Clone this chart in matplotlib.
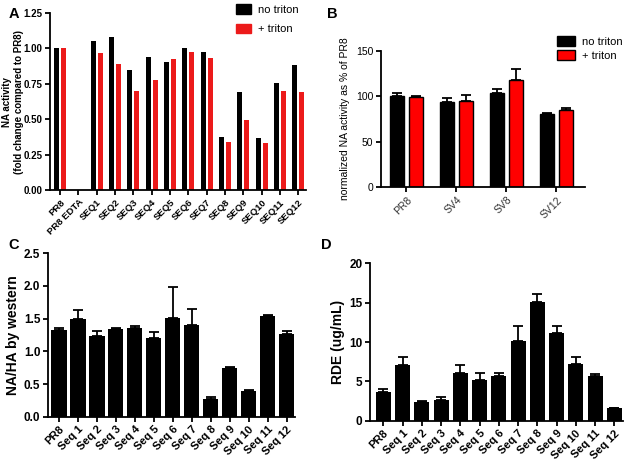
import numpy as np
from matplotlib import pyplot as plt
from matplotlib.patches import Patch

plt.rcParams['font.family'] = ['Liberation Sans', 'DejaVu Sans']

# panel A: NA activity, fold change compared to PR8
a_labels = ['PR8', 'PR8 EDTA', 'SEQ1', 'SEQ2', 'SEQ3', 'SEQ4', 'SEQ5', 'SEQ6',
            'SEQ7', 'SEQ8', 'SEQ9', 'SEQ10', 'SEQ11', 'SEQ12']
a_no_triton = [1.00, 0.0, 1.055, 1.083, 0.848, 0.942, 0.904, 1.00, 0.975,
               0.377, 0.695, 0.371, 0.757, 0.886]
a_triton = [1.00, -0.01, 0.966, 0.888, 0.70, 0.775, 0.923, 0.975, 0.935,
            0.343, 0.493, 0.329, 0.703, 0.69]

# panel B: normalized NA activity as % of PR8
b_labels = ['PR8', 'SV4', 'SV8', 'SV12']
b_no_triton = [100.5, 93.5, 103.4, 81.0]
b_no_triton_err = [2.9, 4.4, 4.8, 0.8]
b_triton = [99.7, 94.6, 118.4, 85.4]
b_triton_err = [0.5, 7.4, 12.1, 1.5]

# panels C and D share the sequence labels
seq_labels = ['PR8'] + [f'Seq {i}' for i in range(1, 13)]
c_values = [1.32, 1.50, 1.24, 1.34, 1.36, 1.21, 1.51, 1.41, 0.265, 0.745,
            0.393, 1.54, 1.265]
c_err = [0.04, 0.13, 0.07, 0.01, 0.03, 0.08, 0.47, 0.24, 0.04, 0.01, 0.01,
         0.01, 0.045]
d_values = [3.64, 7.12, 2.37, 2.67, 6.1, 5.13, 5.64, 10.17, 15.08, 11.1,
            7.16, 5.64, 1.65]
d_err = [0.43, 0.93, 0.13, 0.38, 0.93, 0.93, 0.42, 1.86, 0.98, 0.93, 0.89,
         0.36, 0.0]

RED = '#ec1a1a'


def style_axis(ax, bold=True, size=7):
    for side in ['top', 'right']:
        ax.spines[side].set_visible(False)
    for side in ['left', 'bottom']:
        ax.spines[side].set_linewidth(1.3)
    ax.tick_params(width=1.3, length=3.5, labelsize=size, pad=2)
    weight = 'bold' if bold else 'normal'
    for lbl in ax.get_xticklabels() + ax.get_yticklabels():
        lbl.set_fontweight(weight)


def up_errors(ax, x, y, err, color='black'):
    err = np.asarray(err)
    ax.errorbar(x, y, yerr=[np.zeros_like(err), err], fmt='none',
                ecolor=color, elinewidth=1.3, capsize=3.5, capthick=1.3)


fig = plt.figure(figsize=(6.29, 4.67), dpi=100)

# ---- A ----
axA = fig.add_axes([0.0795, 0.593, 0.407, 0.379])
xa = np.arange(len(a_labels))
axA.bar(xa - 0.19, a_no_triton, width=0.27, color='black')
axA.bar(xa + 0.19, a_triton, width=0.27, color=RED)
axA.set_xlim(-0.55, 13.42)
axA.set_ylim(0, 1.25)
axA.set_yticks([0, 0.25, 0.5, 0.75, 1.0, 1.25])
axA.set_yticklabels(['0.00', '0.25', '0.50', '0.75', '1.00', '1.25'])
axA.set_xticks(xa)
axA.set_xticklabels(a_labels, rotation=45, ha='right', rotation_mode='anchor')
axA.set_ylabel('NA activity\n(fold change compared to PR8)', fontsize=7,
               fontweight='bold')
axA.yaxis.set_label_coords(-0.103, 0.5)
style_axis(axA, size=7)
for lbl in axA.get_xticklabels():
    lbl.set_fontsize(6.8)
fig.legend(handles=[Patch(color='black', label='no triton'),
                    Patch(color=RED, label='+ triton')],
           loc='upper left', bbox_to_anchor=(0.36, 1.012), frameon=False,
           fontsize=8, handlelength=1.3, handleheight=0.9, labelspacing=0.8,
           handletextpad=0.6)
fig.text(0.013, 0.985, 'A', fontsize=10.5, fontweight='bold', va='top')

# ---- B ----
axB = fig.add_axes([0.6057, 0.599, 0.3243, 0.292])
xb = np.arange(len(b_labels))
axB.bar(xb - 0.19, b_no_triton, width=0.29, color='black',
        edgecolor='black', linewidth=1)
axB.bar(xb + 0.19, b_triton, width=0.29, color='#ff0000',
        edgecolor='black', linewidth=1)
up_errors(axB, xb - 0.19, b_no_triton, b_no_triton_err)
up_errors(axB, xb + 0.19, b_triton, b_triton_err)
axB.set_xlim(-0.51, 3.57)
axB.set_ylim(0, 150)
axB.set_yticks([0, 50, 100, 150])
axB.set_xticks(xb)
axB.set_xticklabels(b_labels, rotation=45, ha='right', rotation_mode='anchor',
                    color='#333333')
axB.set_ylabel('normalized NA activity as % of PR8', fontsize=7.5,
               labelpad=4)
style_axis(axB, bold=False, size=7.5)
fig.legend(handles=[Patch(facecolor='black', edgecolor='black',
                          label='no triton'),
                    Patch(facecolor='#ff0000', edgecolor='black',
                          label='+ triton')],
           loc='upper left', bbox_to_anchor=(0.87, 0.945), frameon=False,
           fontsize=8, handlelength=1.6, handleheight=1.1, labelspacing=0.25,
           handletextpad=0.6)
fig.text(0.52, 0.985, 'B', fontsize=10.5, fontweight='bold', va='top')

# ---- C ----
axC = fig.add_axes([0.0763, 0.1077, 0.3927, 0.35])
xs = np.arange(len(seq_labels))
axC.bar(xs, c_values, width=0.8, color='black')
up_errors(axC, xs, c_values, c_err)
axC.set_xlim(-0.58, 12.44)
axC.set_ylim(0, 2.5)
axC.set_yticks([0, 0.5, 1.0, 1.5, 2.0, 2.5])
axC.set_xticks(xs)
axC.set_xticklabels(seq_labels, rotation=45, ha='right', rotation_mode='anchor')
axC.set_ylabel('NA/HA by western', fontsize=10, fontweight='bold',
               labelpad=3)
style_axis(axC, size=8.5)
for lbl in axC.get_xticklabels():
    lbl.set_fontsize(8)
fig.text(0.013, 0.49, 'C', fontsize=10.5, fontweight='bold', va='top')

# ---- D ----
axD = fig.add_axes([0.5882, 0.0991, 0.4022, 0.337])
axD.bar(xs, d_values, width=0.78, color='black')
up_errors(axD, xs, d_values, d_err)
axD.set_xlim(-0.69, 12.45)
axD.set_ylim(0, 20)
axD.set_yticks([0, 5, 10, 15, 20])
axD.set_xticks(xs)
axD.set_xticklabels(seq_labels, rotation=45, ha='right', rotation_mode='anchor')
axD.set_ylabel('RDE (ug/mL)', fontsize=10, fontweight='bold', labelpad=3)
style_axis(axD, size=8.5)
for lbl in axD.get_xticklabels():
    lbl.set_fontsize(8)
fig.text(0.51, 0.49, 'D', fontsize=10.5, fontweight='bold', va='top')

fig.savefig('out.png', dpi=100)
